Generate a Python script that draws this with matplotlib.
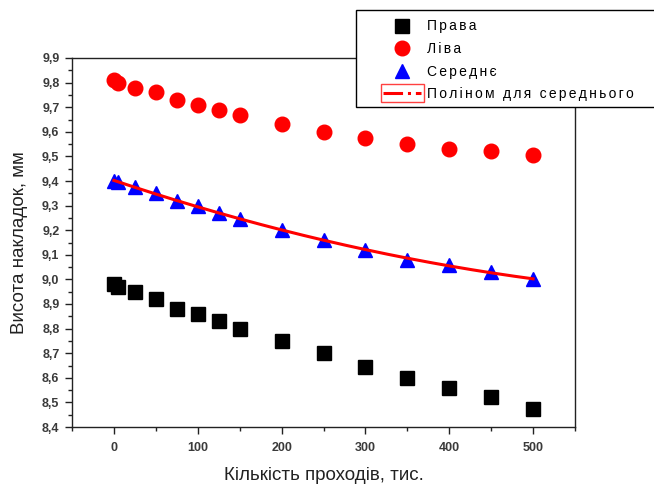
import numpy as np
import matplotlib
matplotlib.use("Agg")
import matplotlib.pyplot as plt
from matplotlib.lines import Line2D
from matplotlib.patches import Rectangle
from matplotlib.legend_handler import HandlerLine2D
from matplotlib.ticker import MultipleLocator, FuncFormatter

# кількість проходів, тис.
passes = [0, 5, 25, 50, 75, 100, 125, 150, 200, 250, 300, 350, 400, 450, 500]

# висота накладок, мм
right_h = [8.98, 8.97, 8.95, 8.92, 8.88, 8.86, 8.83, 8.80, 8.75, 8.70, 8.645, 8.60, 8.56, 8.52, 8.475]
left_h = [9.81, 9.80, 9.78, 9.76, 9.73, 9.71, 9.69, 9.67, 9.63, 9.60, 9.575, 9.55, 9.53, 9.52, 9.505]
middle_h = [9.40, 9.395, 9.375, 9.35, 9.32, 9.30, 9.27, 9.245, 9.20, 9.16, 9.12, 9.08, 9.06, 9.03, 9.00]

labels = ["Права", "Ліва", "Середнє", "Поліном для середнього"]

plt.rcParams['font.family'] = ['Liberation Sans', 'DejaVu Sans']


class BoxedLine(HandlerLine2D):
  # legend line with a red frame round it, like Origin draws it
  def create_artists(self, legend, orig_handle, xdescent, ydescent,
                     width, height, fontsize, trans):
    artists = super().create_artists(legend, orig_handle, xdescent, ydescent,
                                     width, height, fontsize, trans)
    box = Rectangle((-xdescent - 2, -ydescent - 3), width + 4, height + 6,
                    fill=False, edgecolor="#ff4040", linewidth=1.0,
                    transform=trans)
    return [box] + list(artists)


def spaced(s):
  # Origin puts a little extra room between letters
  return "\u2006".join(s)


W, H = 654, 484
fig = plt.figure(figsize=(6.54, 4.84), dpi=100)
ax = fig.add_axes([72 / W, 1 - 427 / H, (575 - 72) / W, (427 - 58) / H])

ax.plot(passes, right_h, "s", color="black", markersize=9.5, label=labels[0])
ax.plot(passes, left_h, "o", color="red", markersize=10.5, label=labels[1])
ax.plot(passes, middle_h, "^", color="blue", markersize=10.5, label=labels[2])

# polynomial fit for the middle series
coef = np.polyfit(passes, middle_h, 2)
xs = np.linspace(0, 500, 200)
ax.plot(xs, np.polyval(coef, xs), "-", color="red", linewidth=2.2, zorder=3)

ax.set_xlim(-50, 550)
ax.set_ylim(8.4, 9.9)
ax.xaxis.set_major_locator(MultipleLocator(100))
ax.xaxis.set_minor_locator(MultipleLocator(50))
ax.yaxis.set_major_locator(MultipleLocator(0.1))
ax.yaxis.set_minor_locator(MultipleLocator(0.05))
ax.yaxis.set_major_formatter(FuncFormatter(lambda v, p: ("%.1f" % v).replace(".", ",")))
ax.tick_params(which="both", direction="out", top=False, right=False,
               labelsize=9, width=1.0, colors="#222222")
ax.tick_params(which="major", length=5)
ax.tick_params(which="minor", length=3)
ax.tick_params(axis="x", which="major", pad=6)
ax.tick_params(axis="y", which="major", pad=4)
for lab in ax.get_xticklabels() + ax.get_yticklabels():
  lab.set_fontweight("bold")
  lab.set_color("#3a3a3a")
for sp in ax.spines.values():
  sp.set_linewidth(1.0)
  sp.set_color("#222222")

ax.set_xlabel("Кількість проходів, тис.", fontsize=13.5, labelpad=9, color="#222222")
ax.set_ylabel("Висота накладок, мм", fontsize=13.5, labelpad=10, color="#222222")

# legend frame drawn by hand, it runs off the right edge like the original
fig.patches.append(Rectangle((356 / W, 1 - 107 / H), 320 / W, 97 / H,
                             transform=fig.transFigure, facecolor="white",
                             edgecolor="black", linewidth=1.0, zorder=5))

fit_handle = Line2D([], [], color="red", linestyle="-.", linewidth=2.2)
handles = ax.get_legend_handles_labels()[0] + [fit_handle]
leg = fig.legend(handles, [spaced(t) for t in labels], loc="upper left",
                 bbox_to_anchor=(382 / W, 1 - 18 / H),
                 bbox_transform=fig.transFigure, borderaxespad=0,
                 fontsize=10, frameon=False, labelspacing=0.62,
                 handlelength=2.7, handletextpad=0.45, borderpad=0.1,
                 handler_map={fit_handle: BoxedLine()})
leg.set_zorder(6)

fig.savefig("out.png", dpi=100)
